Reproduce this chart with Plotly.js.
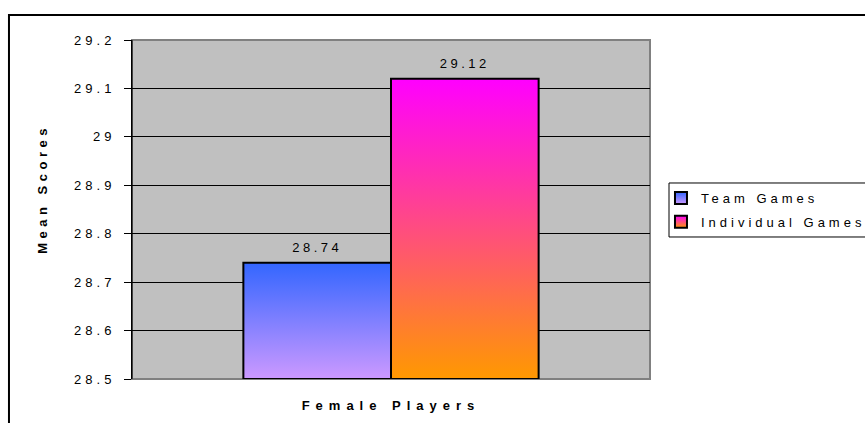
<!DOCTYPE html>
<html>
<head>
<meta charset="utf-8">
<script src="https://cdn.plot.ly/plotly-3.0.1.min.js"></script>
<style>
  html, body { margin: 0; padding: 0; background: #ffffff; }
  #chart { width: 865px; height: 423px; }
  /* widely tracked lettering on every label */
  #chart .ytick text { letter-spacing: 4px; }
  #chart .xtick text { letter-spacing: 6px; }
  #chart .legendtext { letter-spacing: 4px; }
  #chart .bartext { letter-spacing: 3.5px; }
  #chart .annotation-text { letter-spacing: 4.5px; }
</style>
</head>
<body>
<div id="chart"></div>
<script>
// Mean scores of female players by game type
const categories = ['Female Players'];
const seriesNames = ['Team Games', 'Individual Games'];
const teamGames = [28.74];
const individualGames = [29.12];
const yTickValues = [28.5, 28.6, 28.7, 28.8, 28.9, 29.0, 29.1, 29.2];
const yTickLabels = ['28.5', '28.6', '28.7', '28.8', '28.9', '29', '29.1', '29.2'];

const axisMin = 28.5;
const axisMax = 29.2;

// vertical fills for each series: top colour -> bottom colour
const fills = [
  { id: 'fillTeam', top: '#3366ff', bottom: '#cc99ff', flat: '#8a80ff' },
  { id: 'fillIndividual', top: '#ff00ff', bottom: '#ff9900', flat: '#ff7ab0' }
];

const FONT = 'Liberation Sans, Arial, Helvetica, sans-serif';

function barTrace(name, values, fill) {
  return {
    type: 'bar',
    name: name,
    legendgroup: name,
    x: categories,
    base: axisMin,
    y: values.map(v => v - axisMin),
    text: values.map(v => v.toFixed(2)),
    textposition: 'outside',
    cliponaxis: false,
    textfont: { family: FONT, size: 13, color: '#000000' },
    marker: { color: fill.flat, line: { color: '#000000', width: 2 } },
    hoverinfo: 'skip'
  };
}

const traces = [
  barTrace(seriesNames[0], teamGames, fills[0]),
  barTrace(seriesNames[1], individualGames, fills[1])
];

const layout = {
  width: 865,
  height: 423,
  margin: { l: 132, r: 215, t: 40, b: 44, pad: 0 },
  paper_bgcolor: '#ffffff',
  plot_bgcolor: '#c0c0c0',
  font: { family: FONT, size: 13, color: '#000000' },
  barmode: 'group',
  bargap: 0.43,
  bargroupgap: 0,
  showlegend: true,
  legend: {
    x: 1.0212, xanchor: 'left',
    y: 0.5782, yanchor: 'top',
    bgcolor: 'rgba(0,0,0,0)',
    borderwidth: 0,
    traceorder: 'grouped',
    tracegroupgap: 4,
    font: { family: FONT, size: 13, color: '#000000' }
  },
  xaxis: {
    type: 'category',
    showgrid: false,
    zeroline: false,
    showline: false,
    ticks: '',
    ticklabelstandoff: 17,
    tickfont: { family: FONT, size: 13, color: '#000000', weight: 700 }
  },
  yaxis: {
    range: [axisMin, axisMax],
    tickmode: 'array',
    tickvals: yTickValues,
    ticktext: yTickLabels,
    showgrid: true,
    gridcolor: '#000000',
    gridwidth: 1,
    zeroline: false,
    showline: true,
    linecolor: '#000000',
    linewidth: 1,
    ticks: 'outside',
    ticklen: 7,
    tickwidth: 1,
    tickcolor: '#000000',
    ticklabelstandoff: 6,
    tickfont: { family: FONT, size: 13, color: '#000000' }
  },
  annotations: [
    {
      text: 'Mean Scores',
      xref: 'paper', yref: 'paper',
      x: -0.1718, y: 0.5605,
      xanchor: 'center', yanchor: 'middle',
      textangle: -90,
      showarrow: false,
      font: { family: FONT, size: 13, color: '#000000', weight: 700 }
    }
  ],
  shapes: [
    // chart frame, running past the right and bottom edges
    {
      type: 'rect', xref: 'paper', yref: 'paper',
      x0: -0.2375, x1: 1.6, y0: -0.3, y1: 1.0737,
      line: { color: '#000000', width: 2 }, fillcolor: 'rgba(0,0,0,0)', layer: 'above'
    },
    // grey plot-area border drawn over the grid, under the bars
    {
      type: 'rect', xref: 'paper', yref: 'paper',
      x0: 0, x1: 1, y0: 0, y1: 1,
      line: { color: '#808080', width: 2 }, fillcolor: 'rgba(0,0,0,0)', layer: 'between'
    },
    // left axis line in black
    {
      type: 'line', xref: 'paper', yref: 'paper',
      x0: 0, x1: 0, y0: 0, y1: 1,
      line: { color: '#000000', width: 1 }, layer: 'between'
    },
    // legend box
    {
      type: 'rect', xref: 'paper', yref: 'paper',
      x0: 1.0367, x1: 1.6, y0: 0.4189, y1: 0.5782,
      line: { color: '#000000', width: 1 }, fillcolor: 'rgba(0,0,0,0)', layer: 'above'
    }
  ]
};

function applyFills(gd) {
  const ns = 'http://www.w3.org/2000/svg';
  const svg = gd.querySelector('.main-svg');
  let defs = svg.querySelector('defs');
  if (!defs) { defs = document.createElementNS(ns, 'defs'); svg.insertBefore(defs, svg.firstChild); }
  fills.forEach(f => {
    if (svg.querySelector('#' + f.id)) return;
    const lg = document.createElementNS(ns, 'linearGradient');
    lg.setAttribute('id', f.id);
    lg.setAttribute('x1', '0'); lg.setAttribute('y1', '0');
    lg.setAttribute('x2', '0'); lg.setAttribute('y2', '1');
    [[0, f.top], [1, f.bottom]].forEach(([off, col]) => {
      const s = document.createElementNS(ns, 'stop');
      s.setAttribute('offset', off);
      s.setAttribute('stop-color', col);
      lg.appendChild(s);
    });
    defs.appendChild(lg);
  });
  gd.querySelectorAll('.barlayer .trace').forEach((tr, i) => {
    tr.querySelectorAll('path').forEach(p => { p.style.fill = 'url(#' + fills[i].id + ')'; });
  });
  gd.querySelectorAll('.legend .traces').forEach((tr, i) => {
    tr.querySelectorAll('.legendpoints path').forEach(p => { p.style.fill = 'url(#' + fills[i].id + ')'; });
  });
  // the tracked legend text runs wider than the measured box, so let it show in full
  gd.querySelectorAll('.legend [clip-path]').forEach(el => el.removeAttribute('clip-path'));
  // lift value labels a little further above the bar tops
  gd.querySelectorAll('.bartext').forEach(t => {
    if (t.dataset.lifted) return;
    t.dataset.lifted = '1';
    t.setAttribute('transform', 'translate(0,-5) ' + (t.getAttribute('transform') || ''));
  });
}

const gd = document.getElementById('chart');
Plotly.newPlot(gd, traces, layout, { displayModeBar: false, staticPlot: true }).then(() => applyFills(gd));
</script>
</body>
</html>
